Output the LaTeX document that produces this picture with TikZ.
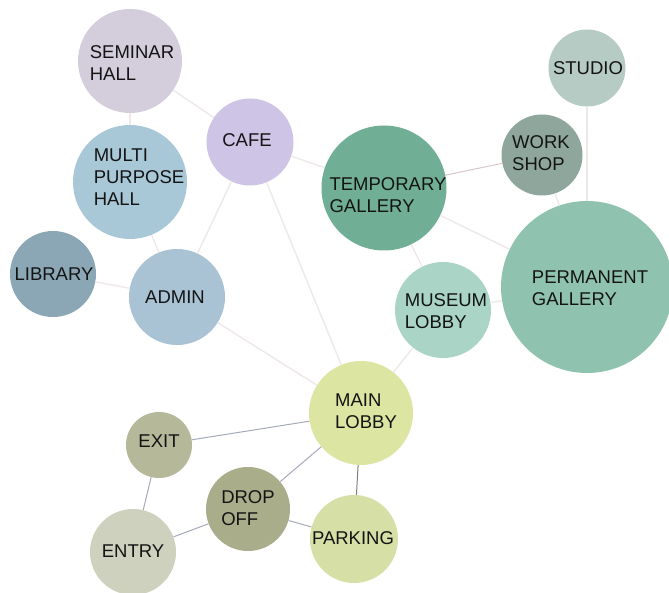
\documentclass[tikz,border=0pt]{standalone}
\usepackage{fontspec}
\setmainfont{Liberation Sans}
\begin{document}
\begin{tikzpicture}[x=1pt,y=-1pt,
  room/.style={circle,inner sep=0pt,draw=none},
  lbl/.style={align=left,inner sep=0pt,text=black!92,font=\fontsize{18.5}{22}\selectfont},
  faint/.style={draw=cFaint,line width=1.4pt},
  link/.style={draw=cLink,line width=1pt},
  rose/.style={draw=cRose,line width=1pt}]
\definecolor{cFaint}{HTML}{EFE8E8}
\definecolor{cLink}{HTML}{A6AABA}
\definecolor{cRose}{HTML}{D8C6C8}
\definecolor{cSem}{HTML}{D4CEDC}
\definecolor{cCafe}{HTML}{CEC4E5}
\definecolor{cMulti}{HTML}{A8C8D8}
\definecolor{cLib}{HTML}{8BA6B4}
\definecolor{cAdmin}{HTML}{A9C3D4}
\definecolor{cTemp}{HTML}{70AE95}
\definecolor{cWork}{HTML}{8FA69D}
\definecolor{cStudio}{HTML}{B7CBC5}
\definecolor{cPerm}{HTML}{8FC3AF}
\definecolor{cMus}{HTML}{A9D4C6}
\definecolor{cMain}{HTML}{DCE6A2}
\definecolor{cExit}{HTML}{B5B899}
\definecolor{cDrop}{HTML}{A9AD89}
\definecolor{cEntry}{HTML}{CDD1BD}
\definecolor{cPark}{HTML}{D5DFA6}
\useasboundingbox (0,0) rectangle (669,593);
\fill[white] (0,0) rectangle (669,593);

% rooms (circles)
\node[room,fill=cSem,minimum size=104pt]   (sem)    at (130,61)  {};
\node[room,fill=cCafe,minimum size=87pt]   (cafe)   at (250,142) {};
\node[room,fill=cMulti,minimum size=114pt] (multi)  at (130,182) {};
\node[room,fill=cLib,minimum size=86pt]    (lib)    at (53,274)  {};
\node[room,fill=cAdmin,minimum size=96pt]  (admin)  at (177,297) {};
\node[room,fill=cTemp,minimum size=125pt]  (temp)   at (384,188) {};
\node[room,fill=cWork,minimum size=81pt]   (work)   at (542,155) {};
\node[room,fill=cStudio,minimum size=77pt] (studio) at (587,68)  {};
\node[room,fill=cPerm,minimum size=172pt]  (perm)   at (587,287) {};
\node[room,fill=cMus,minimum size=96pt]    (mus)    at (443,310) {};
\node[room,fill=cMain,minimum size=104pt]  (main)   at (361,413) {};
\node[room,fill=cExit,minimum size=66pt]   (exit)   at (159,445) {};
\node[room,fill=cDrop,minimum size=84pt]   (drop)   at (248,509) {};
\node[room,fill=cEntry,minimum size=86pt]  (entry)  at (133,552) {};
\node[room,fill=cPark,minimum size=88pt]   (park)   at (354,539) {};

% connections
\draw[faint] (sem) -- (cafe);
\draw[faint] (sem) -- (multi);
\draw[rose,draw opacity=0.5] (multi) -- (admin);
\draw[faint] (lib) -- (admin);
\draw[faint] (cafe) -- (temp);
\draw[faint] (cafe) -- (admin);
\draw[faint] (cafe) -- (main);
\draw[faint] (admin) -- (main);
\draw[rose] (temp) -- (work);
\draw[faint] (temp) -- (perm);
\draw[rose,draw opacity=0.5] (temp) -- (mus);
\draw[faint] (work) -- (perm);
\draw[faint] (studio) -- (perm);
\draw[faint] (mus) -- (perm);
\draw[faint] (mus) -- (main);
\draw[link] (main) -- (exit);
\draw[link] (main) -- (drop);
\draw[link,draw=black!50] (main) -- (park);
\draw[link] (exit) -- (entry);
\draw[link] (entry) -- (drop);
\draw[link] (drop) -- (park);

% room names
\node[lbl] (tSem)    at (132,63)  {SEMINAR\\HALL};
\node[lbl] (tCafe)   at (247,140) {CAFE};
\node[lbl] (tMulti)  at (139,177) {MULTI\\PURPOSE\\HALL};
\node[lbl] (tLib)    at (54,274)  {LIBRARY};
\node[lbl] (tAdmin)  at (175,297) {ADMIN};
\node[lbl] (tTemp)   at (388,195) {TEMPORARY\\GALLERY};
\node[lbl] (tWork)   at (541,153) {WORK\\SHOP};
\node[lbl] (tStudio) at (588,68)  {STUDIO};
\node[lbl] (tPerm)   at (590,288) {PERMANENT\\GALLERY};
\node[lbl] (tMus)    at (446,311) {MUSEUM\\LOBBY};
\node[lbl] (tMain)   at (366,411) {MAIN\\LOBBY};
\node[lbl] (tExit)   at (159,441) {EXIT};
\node[lbl] (tDrop)   at (248,508) {DROP\\OFF};
\node[lbl] (tEntry)  at (133,551) {ENTRY};
\node[lbl] (tPark)   at (353,538) {PARKING};
\end{tikzpicture}
\end{document}
